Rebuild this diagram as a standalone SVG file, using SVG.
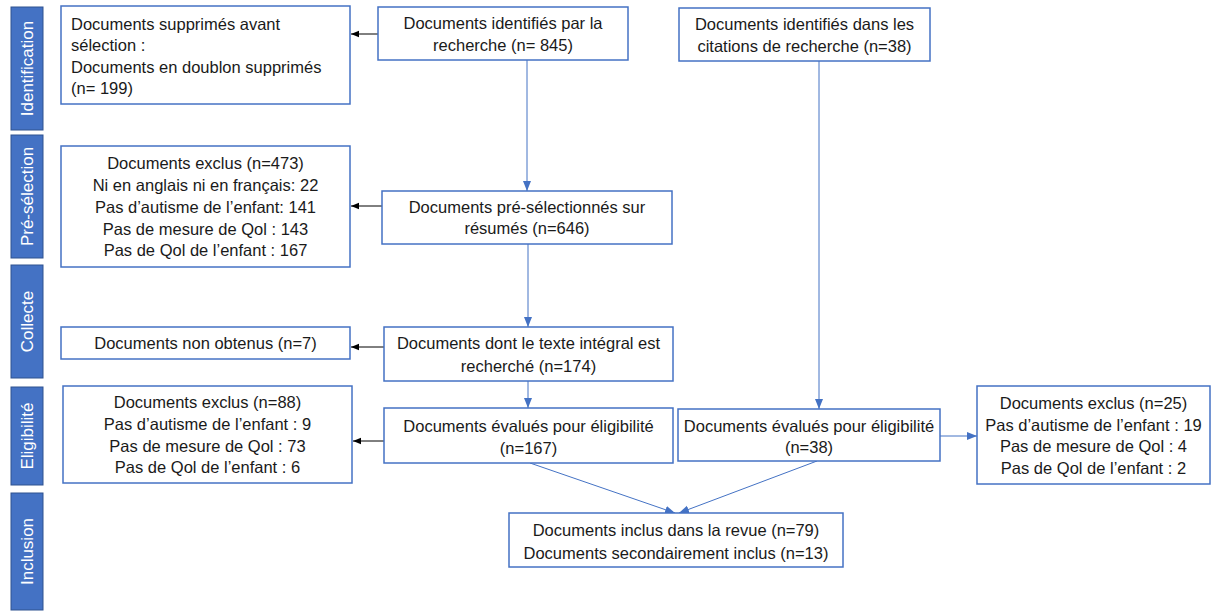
<svg xmlns="http://www.w3.org/2000/svg" width="1213" height="613" viewBox="0 0 1213 613">
<style>
.bar{fill:#4472C4;stroke:#2F528F;stroke-width:1}
.bt{fill:#fff;font-family:"Liberation Sans",Arial,sans-serif;font-size:17px;text-anchor:middle}
.box{fill:#fff;stroke:#4472C4;stroke-width:1.5}
.t{fill:#1a1a1a;font-family:"Liberation Sans",Arial,sans-serif;font-size:16.5px;text-anchor:middle}
.tl{fill:#1a1a1a;font-family:"Liberation Sans",Arial,sans-serif;font-size:16.5px}
.cb{stroke:#4472C4;stroke-width:1;fill:none;marker-end:url(#ab)}
.ck{stroke:#000;stroke-width:1;fill:none;marker-end:url(#ak)}
</style>
<defs>
<marker id="ab" markerUnits="userSpaceOnUse" markerWidth="10" markerHeight="10" viewBox="0 0 10 10" refX="10" refY="5" orient="auto"><path d="M0,1 L10,5 L0,9 z" fill="#4472C4"/></marker>
<marker id="ak" markerUnits="userSpaceOnUse" markerWidth="8" markerHeight="8" viewBox="0 0 10 10" refX="10" refY="5" orient="auto"><path d="M0,1 L10,5 L0,9 z" fill="#000"/></marker>
</defs>
<rect width="1213" height="613" fill="#fff"/>
<g id="phases">
<g id="ph-identification"><rect class="bar" x="11" y="7" width="32" height="123"/><text class="bt" transform="translate(33,68.5) rotate(-90)">Identification</text></g>
<g id="ph-preselection"><rect class="bar" x="11" y="135" width="32" height="123"/><text class="bt" transform="translate(33,196.5) rotate(-90)">Pré-sélection</text></g>
<g id="ph-collecte"><rect class="bar" x="11" y="265" width="32" height="113"/><text class="bt" transform="translate(33,321.5) rotate(-90)">Collecte</text></g>
<g id="ph-eligibilite"><rect class="bar" x="11" y="387" width="32" height="98"/><text class="bt" transform="translate(33,436) rotate(-90)">Eligibilité</text></g>
<g id="ph-inclusion"><rect class="bar" x="11" y="493" width="32" height="117"/><text class="bt" transform="translate(33,551.5) rotate(-90)">Inclusion</text></g>
</g>
<g id="connectors">
<line class="ck" x1="378" y1="34" x2="351" y2="34"/>
<line class="cb" x1="527" y1="60" x2="527" y2="191"/>
<line class="ck" x1="382" y1="206" x2="351" y2="206"/>
<line class="cb" x1="528" y1="244" x2="528" y2="327"/>
<line class="ck" x1="384" y1="347" x2="351" y2="347"/>
<line class="cb" x1="528" y1="381" x2="528" y2="408"/>
<line class="ck" x1="384" y1="441" x2="353" y2="441"/>
<line class="cb" x1="819" y1="61" x2="819" y2="409"/>
<line class="cb" x1="940" y1="436" x2="977" y2="436"/>
<line class="cb" x1="530" y1="463" x2="675" y2="513"/>
<line class="cb" x1="817" y1="461" x2="679" y2="513"/>
</g>
<g id="n-supprimes"><rect class="box" x="61" y="6" width="289" height="98"/>
<text class="tl" x="71" y="30">Documents supprimés avant</text>
<text class="tl" x="71" y="51">sélection :</text>
<text class="tl" x="71" y="73">Documents en doublon supprimés</text>
<text class="tl" x="71" y="94">(n= 199)</text></g>
<g id="n-identifies"><rect class="box" x="378" y="7" width="250" height="53"/>
<text class="t" x="503" y="28.5">Documents identifiés par la</text>
<text class="t" x="503" y="50.5">recherche (n= 845)</text></g>
<g id="n-citations"><rect class="box" x="679" y="8" width="251" height="53"/>
<text class="t" x="804.5" y="29.5">Documents identifiés dans les</text>
<text class="t" x="804.5" y="51.5">citations de recherche (n=38)</text></g>
<g id="n-exclus473"><rect class="box" x="61" y="146" width="289" height="121"/>
<text class="t" x="205.5" y="168.5">Documents exclus (n=473)</text>
<text class="t" x="205.5" y="190.5">Ni en anglais ni en français: 22</text>
<text class="t" x="205.5" y="212.5">Pas d’autisme de l’enfant: 141</text>
<text class="t" x="205.5" y="234.5">Pas de mesure de Qol : 143</text>
<text class="t" x="205.5" y="255.5">Pas de Qol de l’enfant : 167</text></g>
<g id="n-preselectionnes"><rect class="box" x="382" y="191" width="290" height="53"/>
<text class="t" x="527" y="212.5">Documents pré-sélectionnés sur</text>
<text class="t" x="527" y="233.5">résumés (n=646)</text></g>
<g id="n-nonobtenus"><rect class="box" x="61" y="327" width="289" height="32"/>
<text class="t" x="205.5" y="348.5">Documents non obtenus (n=7)</text></g>
<g id="n-texteintegral"><rect class="box" x="384" y="327" width="289" height="54"/>
<text class="t" x="528.5" y="348.5">Documents dont le texte intégral est</text>
<text class="t" x="528.5" y="371.5">recherché (n=174)</text></g>
<g id="n-exclus88"><rect class="box" x="63" y="386" width="289" height="97"/>
<text class="t" x="207.5" y="407.5">Documents exclus (n=88)</text>
<text class="t" x="207.5" y="429.5">Pas d’autisme de l’enfant : 9</text>
<text class="t" x="207.5" y="451.5">Pas de mesure de Qol : 73</text>
<text class="t" x="207.5" y="472.5">Pas de Qol de l’enfant : 6</text></g>
<g id="n-evalues167"><rect class="box" x="384" y="408" width="289" height="55"/>
<text class="t" x="528.5" y="431.5">Documents évalués pour éligibilité</text>
<text class="t" x="528.5" y="453.5">(n=167)</text></g>
<g id="n-evalues38"><rect class="box" x="678" y="409" width="262" height="52"/>
<text class="t" x="809" y="431.5">Documents évalués pour éligibilité</text>
<text class="t" x="809" y="453">(n=38)</text></g>
<g id="n-exclus25"><rect class="box" x="977" y="386" width="233" height="98"/>
<text class="t" x="1093.5" y="408.5">Documents exclus (n=25)</text>
<text class="t" x="1093.5" y="430.5">Pas d’autisme de l’enfant : 19</text>
<text class="t" x="1093.5" y="451.5">Pas de mesure de Qol : 4</text>
<text class="t" x="1093.5" y="473.5">Pas de Qol de l’enfant : 2</text></g>
<g id="n-inclus"><rect class="box" x="509" y="513" width="334" height="54"/>
<text class="t" x="676" y="535.5">Documents inclus dans la revue (n=79)</text>
<text class="t" x="676" y="558.5">Documents secondairement inclus (n=13)</text></g>
</svg>
